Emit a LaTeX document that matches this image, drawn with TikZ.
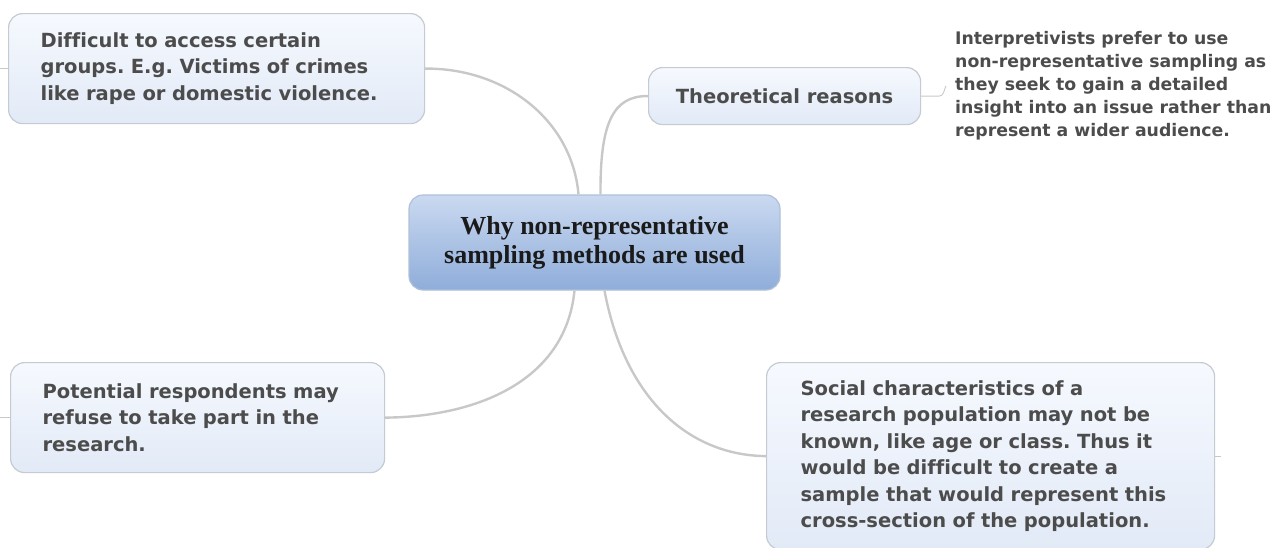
\documentclass[tikz,border=0pt]{standalone}
\usepackage{fontspec}
\setmainfont{DejaVu Sans}[Ligatures=CommonOff]
\newfontfamily\hubfont{Liberation Serif}
\usetikzlibrary{calc}
\frenchspacing
\definecolor{txtgray}{HTML}{4C4C4C}
\definecolor{hubtxt}{HTML}{1A1A1A}
\definecolor{linkgray}{HTML}{C8C8C8}
\definecolor{boxline}{HTML}{C5CBD3}
\definecolor{boxtop}{HTML}{F6F9FE}
\definecolor{boxbot}{HTML}{E2EAF7}
\definecolor{hubtop}{HTML}{CAD9F0}
\definecolor{hubbot}{HTML}{8FADDA}
\definecolor{hubline}{HTML}{AFC0D8}
\begin{document}
\begin{tikzpicture}[x=1pt,y=-1pt,
  topic/.style={draw=boxline, line width=1.2pt, rounded corners=14pt,
    top color=boxtop, bottom color=boxbot,
    font=\bfseries\fontsize{19.5}{26.5}\selectfont, text=txtgray,
    align=left, inner xsep=32pt, inner ysep=0pt, anchor=north west},
  hub/.style={draw=hubline, line width=1.2pt, rounded corners=14pt,
    top color=hubtop, bottom color=hubbot,
    font=\hubfont\bfseries\fontsize{26}{29}\selectfont, text=hubtxt,
    align=center, inner sep=0pt, minimum width=371pt, minimum height=95pt},
  note/.style={font=\bfseries\fontsize{17.3}{23}\selectfont, text=txtgray,
    align=left, inner sep=0pt, anchor=west},
  link/.style={draw=linkgray, line width=2.4pt},
  stub/.style={draw=linkgray, line width=1.2pt}]
\useasboundingbox (0,0) rectangle (1280,547);

% central topic
\node[hub] (c) at (594.5,242.5) {Why non-representative\\sampling methods are used};

% branches
\node[topic, text width=352pt, minimum height=110pt] (tl) at (8,13)
  {Difficult to access certain\\groups. E.g. Victims of crimes\\like rape or domestic violence.};
\node[topic, inner xsep=0pt, minimum width=272pt, minimum height=57pt, align=center] (th) at (648,67)
  {Theoretical reasons};
\node[note] (ip) at (955,86)
  {Interpretivists prefer to use\\non-representative sampling as\\they seek to gain a detailed\\insight into an issue rather than\\represent a wider audience.};
\node[topic, text width=310pt, minimum height=110pt] (bl) at (10,362)
  {Potential respondents may\\refuse to take part in the\\research.};
\node[topic, inner xsep=34pt, text width=380pt, minimum height=187pt] (br) at (766,362)
  {Social characteristics of a\\research population may not be\\known, like age or class. Thus it\\would be difficult to create a\\sample that would represent this\\cross-section of the population.};

% connectors from the central topic
\draw[link] ([xshift=-16pt]c.north) .. controls (572,120) and (505,68) .. (tl.east);
\draw[link] ([xshift=6pt]c.north) .. controls (600,125) and (612,95.5) .. (th.west);
\draw[link] ([xshift=-20pt]c.south) .. controls (565,385) and (470,417) .. (bl.east);
\draw[link] ([xshift=10pt]c.south) .. controls (625,400) and (690,455.5) .. (br.west);

% short stubs on the free sides
\draw[stub] (tl.west) -- ++(-8,0);
\draw[stub] (bl.west) -- ++(-10,0);
\draw[stub] (br.east) -- ++(6,0);
\draw[stub, line width=0.9pt] (th.east) -- ++(18,0)
  .. controls +(5,0) and +(-2,3) .. ([xshift=-9pt]ip.west);
\end{tikzpicture}
\end{document}
